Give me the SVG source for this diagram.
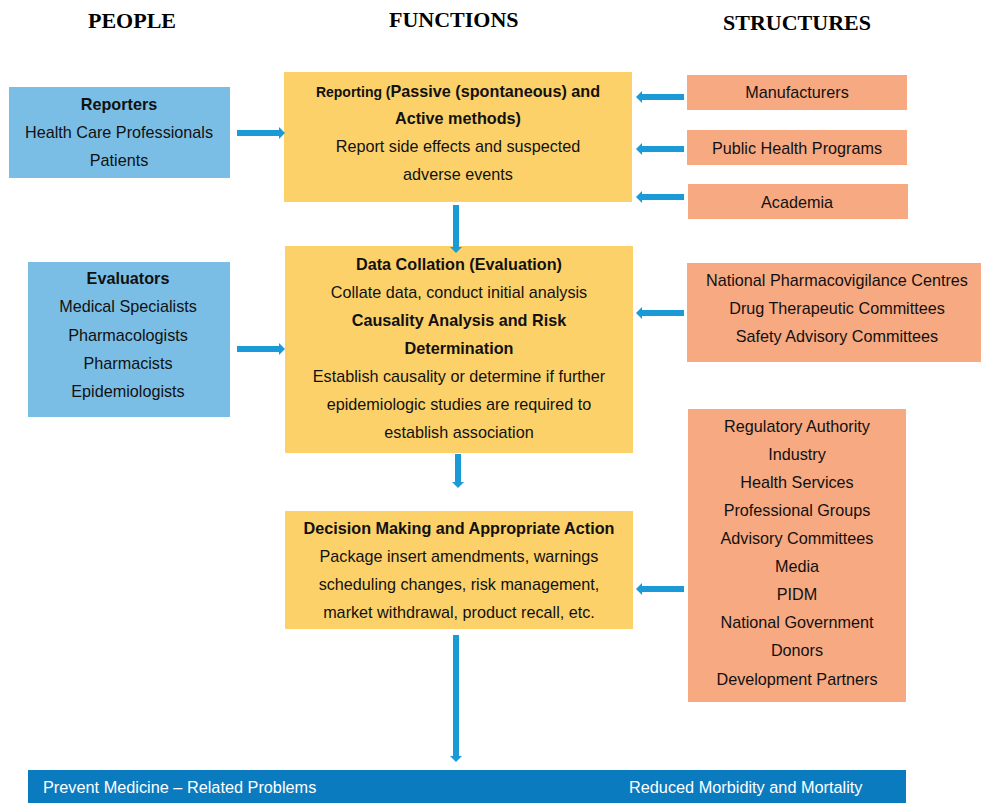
<svg xmlns="http://www.w3.org/2000/svg" width="981" height="803" viewBox="0 0 981 803">
<defs>
<style>
.hdr{font-family:"Liberation Serif","Times New Roman",serif;font-weight:bold;font-size:22px;fill:#000}
.t{font-family:"Liberation Sans",Arial,sans-serif;font-size:16.2px;fill:#111;text-anchor:middle}
.b{font-weight:bold}
.blue{fill:#7BBEE5}
.yel{fill:#FDD16A}
.org{fill:#F7A982}
.bar{fill:#0A7BBF}
.wt{font-family:"Liberation Sans",Arial,sans-serif;font-size:16.3px;fill:#fff}
.c{stroke:#1A9AD6;stroke-width:6;fill:none}
</style>
<marker id="ah" viewBox="0 0 6 12" refX="0" refY="6" markerWidth="6" markerHeight="12" markerUnits="userSpaceOnUse" orient="auto">
<path d="M0,0 L6,6 L0,12 z" fill="#1A9AD6"/>
</marker>
</defs>
<rect width="981" height="803" fill="#fff"/>
<g id="headers">
<text class="hdr" x="88" y="28">PEOPLE</text>
<text class="hdr" x="389" y="27">FUNCTIONS</text>
<text class="hdr" x="723" y="30">STRUCTURES</text>
</g>
<g id="reporters">
<rect class="blue" x="9" y="87" width="221" height="91"/>
<text class="t b" x="119" y="110">Reporters</text>
<text class="t" x="119" y="138">Health Care Professionals</text>
<text class="t" x="119" y="166">Patients</text>
</g>
<g id="evaluators">
<rect class="blue" x="28" y="262" width="202" height="155"/>
<text class="t b" x="128" y="284">Evaluators</text>
<text class="t" x="128" y="312">Medical Specialists</text>
<text class="t" x="128" y="341">Pharmacologists</text>
<text class="t" x="128" y="369">Pharmacists</text>
<text class="t" x="128" y="397">Epidemiologists</text>
</g>
<g id="reporting">
<rect class="yel" x="284" y="72" width="348" height="130"/>
<text class="t b" x="458" y="97"><tspan font-size="14">Reporting (</tspan>Passive (spontaneous) and</text>
<text class="t b" x="458" y="124">Active methods)</text>
<text class="t" x="458" y="152">Report side effects and suspected</text>
<text class="t" x="458" y="180">adverse events</text>
</g>
<g id="datacollation">
<rect class="yel" x="285" y="246" width="348" height="207"/>
<text class="t b" x="459" y="270">Data Collation (Evaluation)</text>
<text class="t" x="459" y="298">Collate data, conduct initial analysis</text>
<text class="t b" x="459" y="326">Causality Analysis and Risk</text>
<text class="t b" x="459" y="354">Determination</text>
<text class="t" x="459" y="382">Establish causality or determine if further</text>
<text class="t" x="459" y="410">epidemiologic studies are required to</text>
<text class="t" x="459" y="438">establish association</text>
</g>
<g id="decision">
<rect class="yel" x="285" y="511" width="348" height="118"/>
<text class="t b" x="459" y="534">Decision Making and Appropriate Action</text>
<text class="t" x="459" y="562">Package insert amendments, warnings</text>
<text class="t" x="459" y="590">scheduling changes, risk management,</text>
<text class="t" x="459" y="618">market withdrawal, product recall, etc.</text>
</g>
<g id="manufacturers">
<rect class="org" x="687" y="75" width="220" height="35"/>
<text class="t" x="797" y="98">Manufacturers</text>
</g>
<g id="publichealth">
<rect class="org" x="687" y="130" width="220" height="35"/>
<text class="t" x="797" y="154">Public Health Programs</text>
</g>
<g id="academia">
<rect class="org" x="688" y="184" width="220" height="35"/>
<text class="t" x="797" y="208">Academia</text>
</g>
<g id="centres">
<rect class="org" x="687" y="263" width="294" height="99"/>
<text class="t" x="837" y="286">National Pharmacovigilance Centres</text>
<text class="t" x="837" y="314">Drug Therapeutic Committees</text>
<text class="t" x="837" y="342">Safety Advisory Committees</text>
</g>
<g id="authorities">
<rect class="org" x="688" y="409" width="218" height="293"/>
<text class="t" x="797" y="432">Regulatory Authority</text>
<text class="t" x="797" y="460">Industry</text>
<text class="t" x="797" y="488">Health Services</text>
<text class="t" x="797" y="516">Professional Groups</text>
<text class="t" x="797" y="544">Advisory Committees</text>
<text class="t" x="797" y="572">Media</text>
<text class="t" x="797" y="600">PIDM</text>
<text class="t" x="797" y="628">National Government</text>
<text class="t" x="797" y="656">Donors</text>
<text class="t" x="797" y="685">Development Partners</text>
</g>
<g id="outcome">
<rect class="bar" x="28" y="770" width="878" height="33"/>
<text class="wt" x="43" y="793">Prevent Medicine – Related Problems</text>
<text class="wt" x="629" y="793">Reduced Morbidity and Mortality</text>
</g>
<g id="connectors">
<line class="c" x1="237" y1="133" x2="279" y2="133" marker-end="url(#ah)"/>
<line class="c" x1="237" y1="349" x2="279" y2="349" marker-end="url(#ah)"/>
<line class="c" x1="684" y1="97" x2="642" y2="97" marker-end="url(#ah)"/>
<line class="c" x1="684" y1="149" x2="642" y2="149" marker-end="url(#ah)"/>
<line class="c" x1="684" y1="197" x2="642" y2="197" marker-end="url(#ah)"/>
<line class="c" x1="684" y1="313" x2="642" y2="313" marker-end="url(#ah)"/>
<line class="c" x1="684" y1="589" x2="642" y2="589" marker-end="url(#ah)"/>
<line class="c" x1="456" y1="205" x2="456" y2="247" marker-end="url(#ah)"/>
<line class="c" x1="458" y1="454" x2="458" y2="482" marker-end="url(#ah)"/>
<line class="c" x1="456" y1="635" x2="456" y2="756" marker-end="url(#ah)"/>
</g>
</svg>
